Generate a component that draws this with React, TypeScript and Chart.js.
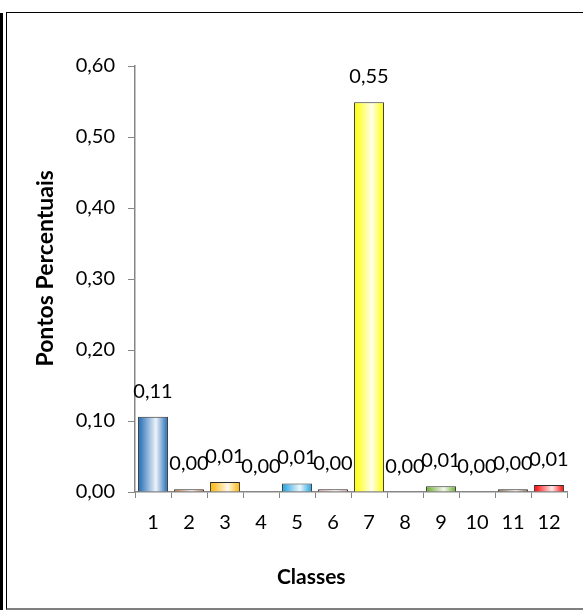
import React, { useEffect, useRef } from "react";
import { Chart, registerables } from "chart.js";

Chart.register(...registerables);

const categories = ["1", "2", "3", "4", "5", "6", "7", "8", "9", "10", "11", "12"];
const values = [0.106, 0.004, 0.014, 0, 0.012, 0.004, 0.549, 0, 0.008, 0, 0.004, 0.01];
const barColors = [
  "#1c68b4", "#b0602a", "#ffb400", "#7030a0", "#1aa0e0", "#d49494",
  "#ffff00", "#00b050", "#6aac2c", "#808080", "#7a5a3c", "#ff0000",
];
const yAxisTitle = "Pontos Percentuais";
const xAxisTitle = "Classes";

const FONT = "Lato, 'Liberation Sans', sans-serif";
const fmt = (v: number) => Number(v).toFixed(2).replace(".", ",");

function lighten(hex: string, amt: number) {
  const n = parseInt(hex.slice(1), 16);
  const r = (n >> 16) & 255, g = (n >> 8) & 255, b = n & 255;
  const m = (c: number) => Math.round(c + (255 - c) * amt);
  return `rgb(${m(r)},${m(g)},${m(b)})`;
}

const gradientPlugin = {
  id: "barGradient",
  beforeDatasetsDraw(chart: any) {
    const ctx = chart.ctx;
    const meta = chart.getDatasetMeta(0);
    meta.data.forEach((el: any, i: number) => {
      const { x, width } = el.getProps(["x", "width"], true);
      const left = x - width / 2;
      const g = ctx.createLinearGradient(left, 0, left + width, 0);
      const c = barColors[i];
      g.addColorStop(0, c);
      g.addColorStop(0.6, lighten(c, 0.92));
      g.addColorStop(1, c);
      el.options = Object.assign({}, el.options, { backgroundColor: g });
    });
  },
};

const labelPlugin = {
  id: "valueLabels",
  afterDatasetsDraw(chart: any) {
    const ctx = chart.ctx;
    const meta = chart.getDatasetMeta(0);
    ctx.save();
    ctx.font = `20px ${FONT}`;
    ctx.fillStyle = "#000";
    ctx.textAlign = "center";
    ctx.textBaseline = "alphabetic";
    meta.data.forEach((el: any, i: number) => {
      const { x, y } = el.getProps(["x", "y"], true);
      ctx.fillText(fmt(values[i]), x, y - 19);
    });
    ctx.restore();
  },
};

const titlePlugin = {
  id: "axisTitles",
  afterDraw(chart: any) {
    const ctx = chart.ctx;
    const a = chart.chartArea;
    ctx.save();
    ctx.fillStyle = "#000";
    ctx.textAlign = "center";
    ctx.textBaseline = "alphabetic";
    ctx.font = `bold 21px ${FONT}`;
    ctx.fillText(xAxisTitle, a.left + (a.right - a.left) * 0.408, 584);
    ctx.font = `bold 23px ${FONT}`;
    ctx.translate(53, a.top + (a.bottom - a.top) * 0.475);
    ctx.rotate(-Math.PI / 2);
    ctx.fillText(yAxisTitle, 0, 0);
    ctx.restore();
  },
};

export default function App() {
  const ref = useRef<HTMLCanvasElement>(null);
  useEffect(() => {
    if (!ref.current) return;
    const chart = new Chart(ref.current, {
      type: "bar",
      data: {
        labels: categories,
        datasets: [
          {
            data: values,
            backgroundColor: barColors,
            borderColor: "#2a2a2a",
            borderWidth: (c: any) => (c.raw === 0 ? 0 : 1),
            barPercentage: 0.83,
            categoryPercentage: 1,
          },
        ],
      },
      options: {
        responsive: false,
        animation: false,
        devicePixelRatio: 1,
        layout: { padding: { left: 0, top: 66, right: 16, bottom: 0 } },
        plugins: { legend: { display: false }, tooltip: { enabled: false }, title: { display: false } },
        scales: {
          x: {
            grid: { display: true, drawOnChartArea: false, drawTicks: true, tickLength: 6, color: "#868686", offset: true },
            border: { display: true, color: "#868686", width: 1.5 },
            ticks: { color: "#000", font: { family: FONT, size: 20 }, padding: 13, maxRotation: 0, autoSkip: false },
            afterFit: (s: any) => { s.height = 118; },
          },
          y: {
            min: 0,
            max: 0.6,
            grid: { display: true, drawOnChartArea: false, drawTicks: true, tickLength: 7, color: "#868686" },
            border: { display: true, color: "#868686", width: 1.5 },
            ticks: { stepSize: 0.1, color: "#000", font: { family: FONT, size: 20 }, padding: 13, callback: (v: any) => fmt(v) },
            afterFit: (s: any) => { s.width = 135; },
          },
        },
      },
      plugins: [gradientPlugin, labelPlugin, titlePlugin],
    } as any);
    return () => chart.destroy();
  }, []);

  return (
    <div style={{ position: "absolute", left: 0, top: 0, width: 583, height: 610, background: "#fff", overflow: "hidden" }}>
      <div style={{ position: "absolute", left: 0, top: 13, width: 3, height: 597, background: "#000" }} />
      <div
        style={{
          position: "absolute", left: 6, top: 12, width: 600, height: 595,
          borderTop: "1px solid #000", borderLeft: "1px solid #000", borderBottom: "2px solid #7f7f7f",
        }}
      />
      <canvas ref={ref} width={583} height={610} style={{ position: "absolute", left: 0, top: 0, width: 583, height: 610 }} />
    </div>
  );
}
